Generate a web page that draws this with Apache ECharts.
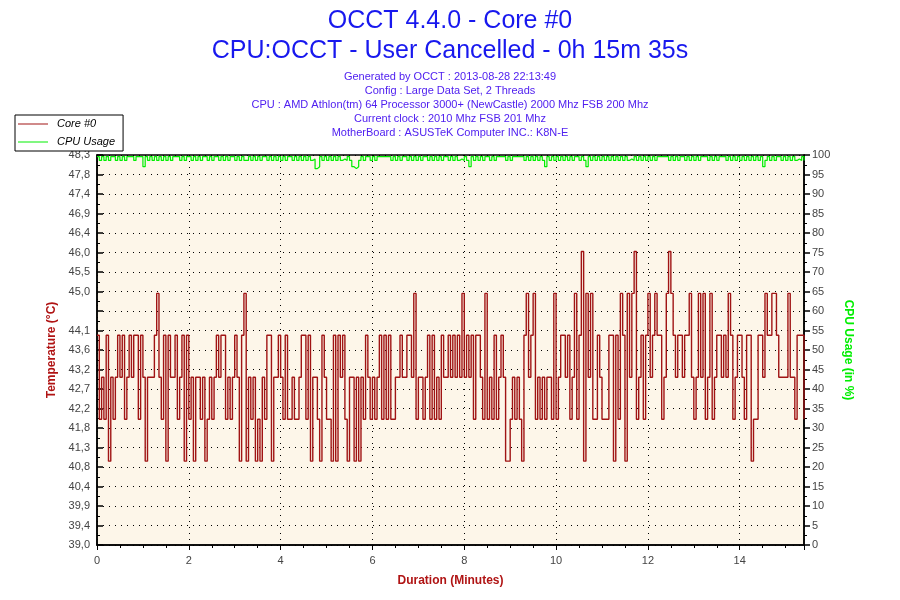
<!DOCTYPE html>
<html>
<head>
<meta charset="utf-8">
<title>OCCT 4.4.0 - Core #0</title>
<script src="https://cdn.jsdelivr.net/npm/echarts@6/dist/echarts.min.js"></script>
<style>
  html, body { margin: 0; padding: 0; background: #fff; }
  #chart { width: 900px; height: 600px; }
</style>
</head>
<body>
<div id="chart"></div>
<script>
// one sample every 3 seconds
var sampleMinutes = 0.05;

var coreTemp = [
  44,42,43,42,44,41,43,42,43,44,43,44,42,43,44,43,44,44,42,44,
  43,41,43,43,43,44,45,43,42,44,41,44,43,43,44,42,43,44,41,44,
  42,43,41,43,43,42,43,41,42,43,42,43,44,43,
  44,44,42,43,42,43,44,43,41,44,45,41,43,42,43,41,42,41,43,42,
  44,44,41,43,43,44,43,42,44,42,42,43,42,42,43,44,44,42,44,41,
  43,43,42,41,44,43,42,42,41,44,41,44,43,
  44,42,41,43,43,41,43,41,43,42,44,43,42,43,42,43,44,42,44,42,
  44,42,42,43,43,44,43,43,44,44,43,45,42,43,43,42,43,44,42,44,
  42,43,42,44,43,43,44,43,44,43,44,43,
  45,43,44,43,44,42,44,44,43,42,45,42,43,42,44,42,43,44,43,41,
  41,42,43,42,43,42,41,44,45,43,44,45,42,43,42,43,42,43,43,42,
  45,42,43,44,44,43,44,42,43,45,42,44,
  46,41,45,43,45,42,42,44,43,42,42,42,44,44,41,44,42,45,44,41,
  45,43,45,46,42,43,44,42,44,45,43,44,45,44,44,42,43,45,46,45,
  44,43,44,44,43,44,44,45,43,42,43,45,
  43,45,42,43,45,42,43,44,44,43,44,43,45,44,42,43,44,44,43,42,
  44,44,41,42,42,44,44,43,45,44,44,45,45,44,43,43,43,43,45,43,43,42,44,44,44,42
];

var cpuUsage = [
  99.6,98.6,99.6,98.6,99.6,98.6,99.6,99.6,98.6,99.6,98.6,99.6,98.6,99.6,99.6,99.6,98.6,99.6,99.6,99.6,
  97,99.6,98.6,99.6,98.6,99.6,98.6,99.6,98.6,99.6,98.6,99.6,98.6,99.6,99.6,99.6,98.6,99.6,98.6,99.6,
  99.6,98.6,99.6,98.6,99.6,98.6,99.6,99.6,98.6,99.6,98.6,99.6,99.6,98.6,99.6,98.6,99.6,98.6,99.6,99.6,
  98.6,99.6,98.6,99.6,98.6,98.6,99.6,98.6,99.6,98.6,99.6,98.6,99.6,99.6,98.6,99.6,98.6,99.6,98.6,99.6,
  98.6,99.6,98.6,99.6,99.6,98.6,99.6,98.6,99.6,98.6,99.6,98.6,99.6,98.6,99,96.5,97,99.6,98.6,99.6,
  98.6,99.6,98.6,99.6,98.6,99.6,98.6,99,98.6,99.6,98.6,97,96.5,97,98.6,99.6,98.6,99.6,99.6,98.6,
  99.6,98.6,99.6,99.6,99.6,99.6,99.6,99.6,98.6,99.6,98.6,99.6,98.6,99.6,99.6,98.6,99.6,98.6,99.6,98.6,
  99.6,98.6,99.6,99.6,98.6,99.6,98.6,99.6,98.6,99.6,98.6,99.6,99.6,98.6,99.6,98.6,99.6,98.6,99,98.6,
  99.6,98.6,97,99.6,98.6,99.6,98.6,99.6,98.6,99.6,99.6,98.6,99.6,98.6,99.6,99.6,99.6,99.6,98.6,99.6,
  98.6,99.6,99.6,99.6,99.6,99.6,98.6,99.6,98.6,99.6,98.6,99.6,98.6,99.6,98.6,97,99.6,98.6,99.6,98.6,
  99.6,98.6,99.6,98.6,99.6,98.6,99.6,98.6,99.6,99.6,98.6,99.6,98.6,97,99.6,98.6,99.6,98.6,99.6,98.6,
  99.6,98.6,99.6,98.6,99.6,98.6,99.6,98.6,99.6,98.6,99.6,98.6,99,98.6,99.6,98.6,99.6,98.6,99.6,98.6,
  99.6,98.6,99.6,98.6,99.6,99.6,99.6,99.6,99.6,98.6,99.6,98.6,99.6,98.6,99.6,99.6,98.6,99.6,98.6,99.6,
  98.6,99.6,98.6,99.6,99.6,99.6,98.6,99.6,98.6,99.6,98.6,99.6,99.6,99.6,98.6,99.6,98.6,99.6,98.6,99.6,
  98.6,99.6,98.6,99.6,98.6,99.6,98.6,99.6,98.6,99.6,97,98.6,99.6,98.6,99.6,98.6,99.6,99.6,98.6,99.6,
  98.6,99.6,98.6,99.6,98.6,99,98.6,99.6,98.6
];

var tempTickLabels = [
  '39,0','39,4','39,9','40,4','40,8','41,3','41,8','42,2','42,7','43,2',
  '43,6','44,1','','45,0','45,5','46,0','46,4','46,9','47,4','47,8','48,3'
];

var subLines = [
  'Generated by OCCT : 2013-08-28 22:13:49',
  'Config : Large Data Set, 2 Threads',
  'CPU : AMD Athlon(tm) 64 Processor 3000+ (NewCastle) 2000 Mhz FSB 200 Mhz',
  'Current clock : 2010 Mhz FSB 201 Mhz',
  'MotherBoard : ASUSTeK Computer INC.: K8N-E'
];

var container = document.getElementById('chart');
var chart = echarts.init(container, null, { renderer: 'canvas' });

var dotted = { color: '#000', width: 1, type: [1, 5] };
var labelStyle = { color: '#444', fontSize: 11, fontFamily: 'Liberation Sans' };

chart.setOption({
  animation: false,
  backgroundColor: '#fff',
  textStyle: { fontFamily: 'Liberation Sans' },
  title: [
    {
      text: 'OCCT 4.4.0 - Core #0\nCPU:OCCT - User Cancelled - 0h 15m 35s',
      left: 'center',
      top: 6,
      padding: 0,
      textStyle: { color: '#1818ee', fontSize: 25, fontWeight: 'normal', lineHeight: 30, fontFamily: 'Liberation Sans' }
    },
    {
      text: subLines.join('\n'),
      left: 'center',
      top: 70,
      padding: 0,
      textStyle: { color: '#5020f0', fontSize: 11, fontWeight: 'normal', lineHeight: 13.9, fontFamily: 'Liberation Sans' }
    }
  ],
  legend: {
    orient: 'vertical',
    left: 15,
    top: 115,
    padding: [3, 8, 3, 3],
    itemGap: 6,
    itemWidth: 30,
    itemHeight: 1,
    backgroundColor: '#fff',
    borderColor: '#000',
    borderWidth: 1,
    borderRadius: 0,
    z: 10,
    textStyle: { color: '#000', fontSize: 11, fontStyle: 'italic', lineHeight: 12, padding: [0, 0, 0, 4] },
    data: [
      { name: 'Core #0', icon: 'rect', itemStyle: { color: '#a01414' } },
      { name: 'CPU Usage', icon: 'rect', itemStyle: { color: '#00ee00' } }
    ]
  },
  grid: {
    left: 97,
    right: 96,
    top: 155,
    bottom: 55,
    show: true,
    backgroundColor: '#fdf6e9',
    borderColor: '#000',
    borderWidth: 1.5
  },
  xAxis: {
    type: 'value',
    min: 0,
    max: 15.4,
    interval: 2,
    name: 'Duration (Minutes)',
    nameLocation: 'middle',
    nameGap: 30,
    nameTextStyle: { color: '#b01414', fontWeight: 'bold', fontSize: 12 },
    axisLine: { lineStyle: { color: '#000', width: 1.5 } },
    axisTick: { inside: false, length: 5, lineStyle: { color: '#000' } },
    minorTick: { show: true, splitNumber: 4, length: 3, lineStyle: { color: '#000' } },
    axisLabel: Object.assign({ margin: 10, showMaxLabel: false }, labelStyle),
    splitLine: { show: true, lineStyle: dotted }
  },
  yAxis: [
    {
      type: 'value',
      min: 39,
      max: 48.3,
      show: false
    },
    {
      type: 'value',
      position: 'left',
      min: 0,
      max: 100,
      interval: 5,
      name: 'Temperature (°C)',
      nameLocation: 'middle',
      nameGap: 39,
      nameTextStyle: { color: '#b01414', fontWeight: 'bold', fontSize: 12 },
      axisLine: { show: true, lineStyle: { color: '#000', width: 1.5 } },
      axisTick: { show: true, inside: true, length: 6, lineStyle: { color: '#000', width: 1.5 } },
      minorTick: { show: true, splitNumber: 2, length: 3, lineStyle: { color: '#000' } },
      axisLabel: Object.assign({
        margin: 7,
        formatter: function (v) { return tempTickLabels[Math.round(v / 5)]; }
      }, labelStyle),
      splitLine: { show: false }
    },
    {
      type: 'value',
      position: 'right',
      min: 0,
      max: 100,
      interval: 5,
      name: 'CPU Usage (in %)',
      nameLocation: 'middle',
      nameRotate: -90,
      nameGap: 38,
      nameTextStyle: { color: '#00ee00', fontWeight: 'bold', fontSize: 12 },
      axisLine: { show: true, lineStyle: { color: '#000', width: 1.5 } },
      axisTick: { show: true, inside: false, length: 6, lineStyle: { color: '#000', width: 1.5 } },
      minorTick: { show: true, splitNumber: 2, length: 3, lineStyle: { color: '#000' } },
      axisLabel: Object.assign({ margin: 8 }, labelStyle),
      splitLine: { show: true, lineStyle: dotted }
    }
  ],
  series: [
    {
      name: 'CPU Usage',
      type: 'line',
      yAxisIndex: 2,
      step: 'end',
      symbol: 'none',
      lineStyle: { color: '#00ee00', width: 1.2 },
      itemStyle: { color: '#00ee00' },
      data: cpuUsage.map(function (v, i) { return [i * sampleMinutes, v]; })
    },
    {
      name: 'Core #0',
      type: 'line',
      yAxisIndex: 0,
      step: 'end',
      symbol: 'none',
      lineStyle: { color: '#a01414', width: 1.4 },
      itemStyle: { color: '#a01414' },
      data: coreTemp.map(function (v, i) { return [i * sampleMinutes, v]; })
    }
  ]
});
</script>
</body>
</html>
